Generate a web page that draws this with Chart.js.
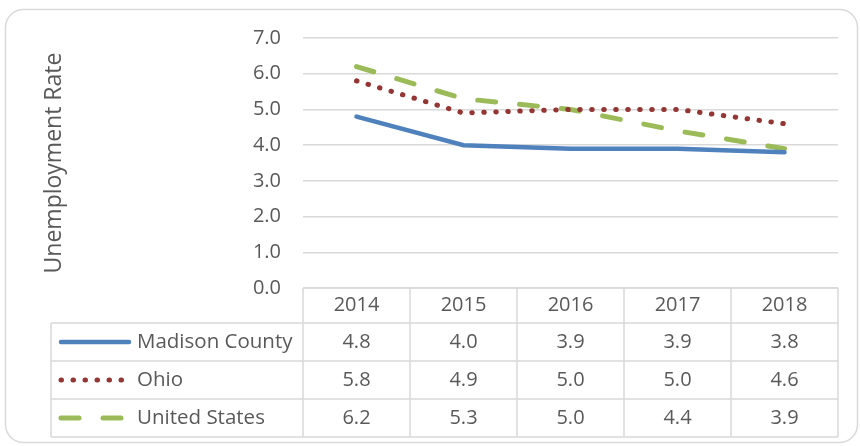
<!DOCTYPE html>
<html>
<head>
<meta charset="utf-8">
<script src="https://cdn.jsdelivr.net/npm/chart.js@4.4.1/dist/chart.umd.min.js"></script>
<style>
  html, body { margin: 0; padding: 0; background: #fff; }
</style>
</head>
<body>
<canvas id="myChart" width="860" height="446"></canvas>
<script>
const years = ['2014', '2015', '2016', '2017', '2018'];
const madison = [4.8, 4.0, 3.9, 3.9, 3.8];
const ohio = [5.8, 4.9, 5.0, 5.0, 4.6];
const us = [6.2, 5.3, 5.0, 4.4, 3.9];
const seriesNames = ['Madison County', 'Ohio', 'United States'];
const yMin = 0;
const yMax = 7;

const textColor = '#595959';
const lineGray = '#d9d9d9';
const fontFam = '"Open Sans", "Noto Sans", sans-serif';

// rounded outer frame, like the Excel chart area
const frame = {
  id: 'frame',
  beforeDraw(chart) {
    const ctx = chart.ctx;
    ctx.save();
    ctx.strokeStyle = lineGray;
    ctx.lineWidth = 1.5;
    ctx.beginPath();
    ctx.roundRect(5.5, 9.5, 852, 433, 18);
    ctx.stroke();
    ctx.restore();
  }
};

// data table under the plot (years header + one row per series)
const dataTable = {
  id: 'dataTable',
  afterDraw(chart) {
    const ctx = chart.ctx;
    const area = chart.chartArea;
    const xs = chart.scales.x;
    const colW = (area.right - area.left) / years.length;
    const legendLeft = 51;
    const headTop = area.bottom;
    const headBot = headTop + 35;
    const rowH = 38;
    const tableBot = headBot + rowH * seriesNames.length;

    ctx.save();
    ctx.strokeStyle = lineGray;
    ctx.lineWidth = 1.5;
    ctx.beginPath();
    // header row top + verticals
    ctx.moveTo(area.left, headTop);
    ctx.lineTo(area.right, headTop);
    for (let i = 0; i <= years.length; i++) {
      const x = area.left + i * colW;
      ctx.moveTo(x, headTop);
      ctx.lineTo(x, tableBot);
    }
    // series rows
    for (let r = 0; r <= seriesNames.length; r++) {
      const y = headBot + r * rowH;
      ctx.moveTo(legendLeft, y);
      ctx.lineTo(area.right, y);
    }
    ctx.moveTo(legendLeft, headBot);
    ctx.lineTo(legendLeft, tableBot);
    ctx.stroke();

    ctx.fillStyle = textColor;
    ctx.font = '20px ' + fontFam;
    ctx.textAlign = 'center';
    ctx.textBaseline = 'middle';
    years.forEach((yr, i) => {
      ctx.fillText(yr, xs.getPixelForValue(i), (headTop + headBot) / 2);
    });

    chart.data.datasets.forEach((ds, r) => {
      const cy = headBot + r * rowH + rowH / 2;
      ds.data.forEach((v, i) => {
        ctx.textAlign = 'center';
        ctx.fillText(v.toFixed(1), xs.getPixelForValue(i), cy);
      });
      ctx.textAlign = 'left';
      ctx.font = '20.5px ' + fontFam;
      ctx.fillText(ds.label, 137, cy);
      ctx.font = '20px ' + fontFam;

      // legend key
      ctx.save();
      ctx.strokeStyle = ds.borderColor;
      ctx.lineWidth = ds.borderWidth;
      ctx.lineCap = ds.borderCapStyle || 'round';
      ctx.setLineDash(ds.borderDash || []);
      ctx.beginPath();
      ctx.moveTo(61, cy);
      ctx.lineTo(129, cy);
      ctx.stroke();
      ctx.restore();
    });
    ctx.restore();
  }
};

new Chart(document.getElementById('myChart'), {
  type: 'line',
  data: {
    labels: years,
    datasets: [
      {
        label: seriesNames[0],
        data: madison,
        borderColor: '#4f81bd',
        borderWidth: 4.5,
        borderCapStyle: 'round',
        pointRadius: 0,
        tension: 0
      },
      {
        label: seriesNames[1],
        data: ohio,
        borderColor: '#943634',
        borderWidth: 5,
        borderCapStyle: 'round',
        borderDash: [0.5, 11.5],
        pointRadius: 0,
        tension: 0
      },
      {
        label: seriesNames[2],
        data: us,
        borderColor: '#9bbb59',
        borderWidth: 5,
        borderCapStyle: 'round',
        borderDash: [18, 24],
        pointRadius: 0,
        tension: 0
      }
    ]
  },
  options: {
    responsive: false,
    animation: false,
    layout: {
      padding: { top: 38, right: 22, bottom: 158, left: 0 }
    },
    plugins: {
      legend: { display: false },
      tooltip: { enabled: false }
    },
    scales: {
      x: {
        display: false,
        offset: true
      },
      y: {
        min: yMin,
        max: yMax,
        afterFit: (scale) => { scale.width = 303; },
        border: { display: false },
        grid: {
          color: lineGray,
          lineWidth: 1.5,
          drawTicks: false
        },
        ticks: {
          stepSize: 1,
          padding: 22,
          color: textColor,
          font: { family: fontFam, size: 20 },
          callback: (v) => Number(v).toFixed(1)
        },
        title: {
          display: true,
          text: 'Unemployment Rate',
          color: textColor,
          font: { family: fontFam, size: 23 },
          padding: { top: 41 }
        }
      }
    }
  },
  plugins: [frame, dataTable]
});
</script>
</body>
</html>
